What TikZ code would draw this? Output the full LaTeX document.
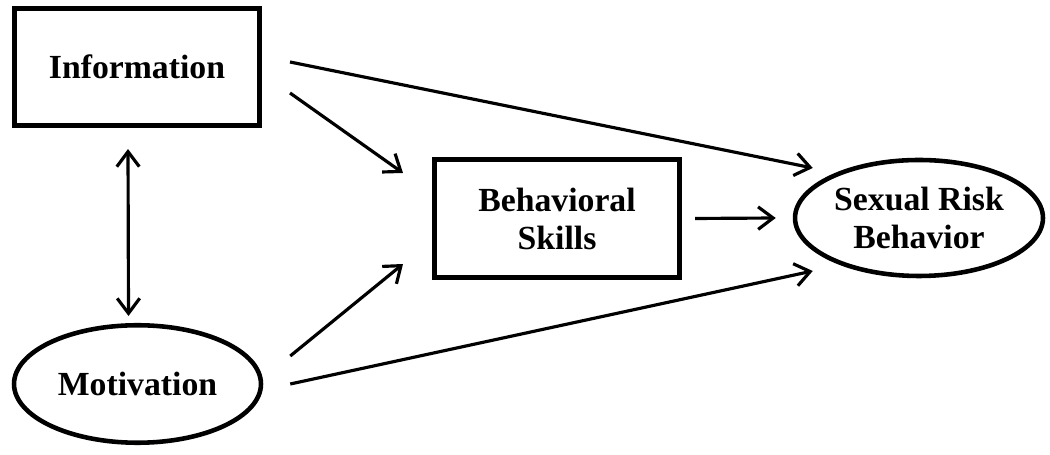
\documentclass[tikz,border=0pt]{standalone}
\usepackage{fontspec}
\setmainfont{Liberation Serif}
\usetikzlibrary{arrows.meta,shapes.geometric}

\begin{document}
\begin{tikzpicture}[
  x=0.02cm, y=0.02cm,
  >={Straight Barb[length=3mm, width=4.5mm, line width=1.8pt]},
  box/.style={draw, line width=2.6pt, align=center, minimum width=4.91cm,
    minimum height=2.35cm, font=\fontsize{19.2}{21.6}\selectfont\bfseries},
  oval/.style={draw, ellipse, line width=2.6pt, align=center, inner sep=0pt,
    minimum width=4.94cm, minimum height=2.35cm,
    font=\fontsize{19.2}{21.6}\selectfont\bfseries},
  arr/.style={->, line width=1.8pt}
]
\useasboundingbox (0,0) rectangle (1050,455);
\node[box] (info) at (137,388) {Information};
\node[oval] (mot) at (137.5,71) {Motivation};
\node[box] (skills) at (557,236.5) {Behavioral\\Skills};
\node[oval, minimum width=4.96cm, minimum height=2.32cm] (risk) at (919,237)
  {Sexual Risk\\Behavior};
\draw[arr, <->] ([shift={(-9,-21)}]info.south) -- ([shift={(-9,7)}]mot.north);
\draw[arr] ([shift={(28,5)}]info.east) -- ([shift={(20,50)}]risk.west);
\draw[arr] ([shift={(28,-26)}]info.east) -- ([shift={(-29,45.5)}]skills.west);
\draw[arr] ([shift={(27,28)}]mot.east) -- ([shift={(-29,-45.5)}]skills.west);
\draw[arr] ([shift={(27,0)}]mot.east) -- ([shift={(20,-53)}]risk.west);
\draw[arr] ([xshift=13*0.02cm]skills.east) -- ([xshift=-17*0.02cm]risk.west);
\end{tikzpicture}
\end{document}
